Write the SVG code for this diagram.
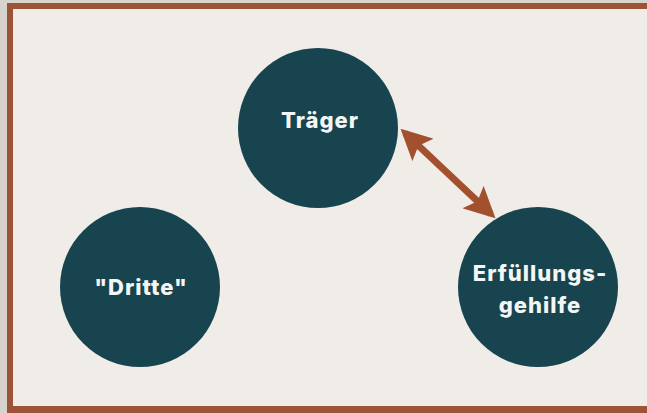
<svg xmlns="http://www.w3.org/2000/svg" width="647" height="413" viewBox="0 0 647 413">
<style>
.node circle{fill:#17444f}
.node text{fill:#f4f6f4;font-family:Inter,"Open Sans","DejaVu Sans",sans-serif;font-weight:800;font-size:22px;letter-spacing:1px;text-anchor:middle}
.conn{stroke:#a3502e;stroke-width:7;fill:none}
</style>
<defs>
<marker id="ah" viewBox="0 0 10 10" refX="8" refY="5" markerWidth="4.4" markerHeight="4.4" orient="auto-start-reverse" markerUnits="strokeWidth">
<path d="M0,0 L10,5 L0,10 L2,5 Z" fill="#a3502e"/>
</marker>
</defs>
<rect x="0" y="0" width="647" height="413" fill="#d7d3ce"/>
<rect x="7" y="3" width="650" height="410" fill="#9d5336"/>
<rect x="13" y="9" width="640" height="397" fill="#f0ede9"/>
<g id="connectors">
<line class="conn" x1="405" y1="133" x2="491" y2="214" marker-start="url(#ah)" marker-end="url(#ah)"/>
</g>
<g id="traeger" class="node">
<circle cx="318" cy="128" r="80"/>
<text x="320" y="128">Träger</text>
</g>
<g id="dritte" class="node">
<circle cx="140" cy="287" r="80"/>
<text x="141" y="295">"Dritte"</text>
</g>
<g id="erfuellungsgehilfe" class="node">
<circle cx="538" cy="287" r="80"/>
<text x="540" y="281">Erfüllungs-</text>
<text x="540" y="313">gehilfe</text>
</g>
</svg>
